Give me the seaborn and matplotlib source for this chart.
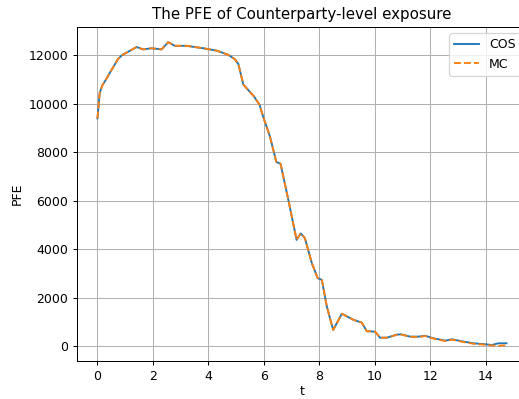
import matplotlib
matplotlib.use("Agg")
import matplotlib.pyplot as plt
import seaborn as sns
import numpy as np

# Exposure time grid (years) and PFE profiles from the two pricing methods
t = [0.00, 0.08, 0.17, 0.26, 0.44, 0.74, 0.87, 1.10, 1.41, 1.65, 1.95, 2.31,
     2.55, 2.79, 3.21, 3.81, 4.30, 4.71, 4.95, 5.08, 5.26, 5.65, 5.85, 5.98,
     6.22, 6.45, 6.60, 6.88, 7.18, 7.33, 7.48, 7.73, 7.94, 8.09, 8.27, 8.50,
     8.81, 9.23, 9.53, 9.71, 10.01, 10.19, 10.43, 10.80, 10.95, 11.27, 11.57,
     11.82, 12.12, 12.54, 12.78, 13.20, 13.56, 13.98, 14.22, 14.46, 14.75]

pfe_cos = [9400, 10450, 10750, 10920, 11270, 11850, 12000, 12150, 12350, 12250,
           12300, 12250, 12550, 12400, 12400, 12300, 12200, 12030, 11850, 11650,
           10800, 10300, 9950, 9450, 8650, 7600, 7530, 6050, 4380, 4650, 4450,
           3420, 2800, 2730, 1630, 660, 1330, 1080, 965, 610, 590, 340, 340, 470,
           480, 385, 385, 420, 315, 220, 275, 180, 110, 70, 40, 110, 110]

pfe_mc = [9400, 10450, 10750, 10920, 11270, 11850, 12000, 12150, 12350, 12250,
          12300, 12250, 12550, 12400, 12400, 12300, 12200, 12030, 11850, 11650,
          10800, 10300, 9950, 9450, 8650, 7600, 7530, 6050, 4380, 4650, 4450,
          3420, 2800, 2730, 1630, 660, 1330, 1080, 965, 610, 590, 340, 340, 460,
          470, 380, 370, 410, 300, 200, 260, 160, 90, 50, 20, 5, 30]

DPI = 90
fig = plt.figure(figsize=(519 / DPI, 399 / DPI), dpi=DPI)
ax = fig.add_axes([77 / 519, 38 / 399, 450 / 519, 334 / 399])

sns.lineplot(x=t, y=pfe_cos, ax=ax, color="tab:blue", label="COS")
sns.lineplot(x=t, y=pfe_mc, ax=ax, color="tab:orange", linestyle="--", label="MC")

ax.set_title("The PFE of Counterparty-level exposure")
ax.set_xlabel("t", labelpad=1.5)
ax.set_ylabel("PFE")
ax.grid(True)
ax.legend(loc="upper right")

fig.savefig("out.png", dpi=DPI)
